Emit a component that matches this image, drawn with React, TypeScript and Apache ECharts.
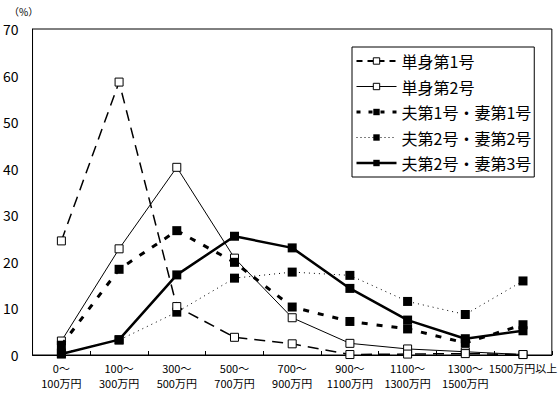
import React, { useEffect, useRef } from "react";
import * as echarts from "echarts";

const categories = [
  "0～\n100万円",
  "100～\n300万円",
  "300～\n500万円",
  "500～\n700万円",
  "700～\n900万円",
  "900～\n1100万円",
  "1100～\n1300万円",
  "1300～\n1500万円",
  "1500万円以上",
];

const seriesNames = [
  "単身第1号",
  "単身第2号",
  "夫第1号・妻第1号",
  "夫第2号・妻第2号",
  "夫第2号・妻第3号",
];

const single1 = [24.5, 58.6, 10.4, 3.8, 2.4, 0.1, 0.2, 0.3, 0.1];
const single2 = [3.0, 22.8, 40.3, 20.8, 8.0, 2.5, 1.3, 0.7, 0.1];
const h1w1 = [2.1, 18.4, 26.7, 19.9, 10.3, 7.2, 5.6, 2.6, 6.5];
const h2w2 = [0.4, 3.2, 9.2, 16.5, 17.8, 17.1, 11.5, 8.7, 15.9];
const h2w3 = [0.2, 3.3, 17.2, 25.5, 23.0, 14.3, 7.5, 3.5, 5.2];

const yTicks = { min: 0, max: 70, interval: 10 };

const FONT = "'Noto Sans CJK JP', 'Noto Sans', sans-serif";

export default function App() {
  const ref = useRef<HTMLDivElement>(null);
  useEffect(() => {
    document.body.style.margin = "0";
    if (!ref.current) return;
    const chart = echarts.init(ref.current, null, { renderer: "svg" });
    const openSq = {
      color: "#fff",
      borderColor: "#000",
      borderWidth: 1,
    };
    const fillSq = { color: "#000", borderColor: "#000", borderWidth: 0 };
    const styles = [
      { sym: 8, item: openSq, line: { color: "#000", width: 1.5, type: [11, 7] } },
      { sym: 8, item: openSq, line: { color: "#000", width: 1, type: "solid" } },
      { sym: 9, item: fillSq, line: { color: "#000", width: 3, type: [6, 9] } },
      { sym: 9, item: fillSq, line: { color: "#000", width: 1, type: [1, 4] } },
      { sym: 9, item: fillSq, line: { color: "#000", width: 2.5, type: "solid" } },
    ];
    const legendLines = [
      { color: "#000", width: 2, type: [6, 5] },
      { color: "#000", width: 1, type: "solid" },
      { color: "#000", width: 3, type: [4, 8] },
      { color: "#000", width: 1, type: [1, 3] },
      { color: "#000", width: 2.5, type: "solid" },
    ];
    const order = [3, 1, 2, 4, 0];
    const dataArr = [single1, single2, h1w1, h2w2, h2w3];
    chart.setOption({
      animation: false,
      backgroundColor: "#fff",
      textStyle: { fontFamily: FONT, color: "#000" },
      grid: {
        left: 30,
        right: 7,
        top: 29,
        bottom: 41,
        show: true,
        borderColor: "#000",
        borderWidth: 1,
        backgroundColor: "transparent",
      },
      graphic: [
        {
          type: "text",
          left: 9,
          top: 6,
          style: { text: "（%）", fontSize: 10, fill: "#000", fontFamily: FONT },
        },
      ],
      legend: {
        orient: "vertical",
        left: 352,
        top: 47,
        backgroundColor: "#fff",
        borderColor: "#000",
        borderWidth: 1,
        padding: [6, 3, 6, 3],
        itemWidth: 40,
        itemHeight: 8,
        itemGap: 9.5,
        textStyle: { fontSize: 16, color: "#000", fontFamily: FONT },
        data: seriesNames.map((n, i) => ({
          name: n,
          itemStyle: styles[i].item,
          lineStyle: legendLines[i],
        })),
      },
      xAxis: {
        type: "category",
        data: categories,
        boundaryGap: true,
        axisLine: { lineStyle: { color: "#000", width: 1 } },
        axisTick: { show: true, inside: true, length: 4, lineStyle: { color: "#000" } },
        axisLabel: {
          interval: 0,
          fontSize: 11,
          lineHeight: 15,
          margin: 5,
          color: "#000",
          fontFamily: FONT,
        },
        splitLine: { show: false },
      },
      yAxis: {
        type: "value",
        min: yTicks.min,
        max: yTicks.max,
        interval: yTicks.interval,
        axisLine: { show: true, lineStyle: { color: "#000", width: 1 } },
        axisTick: { show: false },
        axisLabel: { fontSize: 14, margin: 14, color: "#000", fontFamily: FONT },
        splitLine: { show: false },
      },
      series: order.map((i, k) => ({
        name: seriesNames[i],
        type: "line",
        data: dataArr[i],
        symbol: "rect",
        symbolSize: styles[i].sym,
        itemStyle: styles[i].item,
        lineStyle: styles[i].line,
        z: 2 + k,
      })),
    });
    return () => chart.dispose();
  }, []);
  return <div ref={ref} style={{ width: 560, height: 396 }} />;
}
